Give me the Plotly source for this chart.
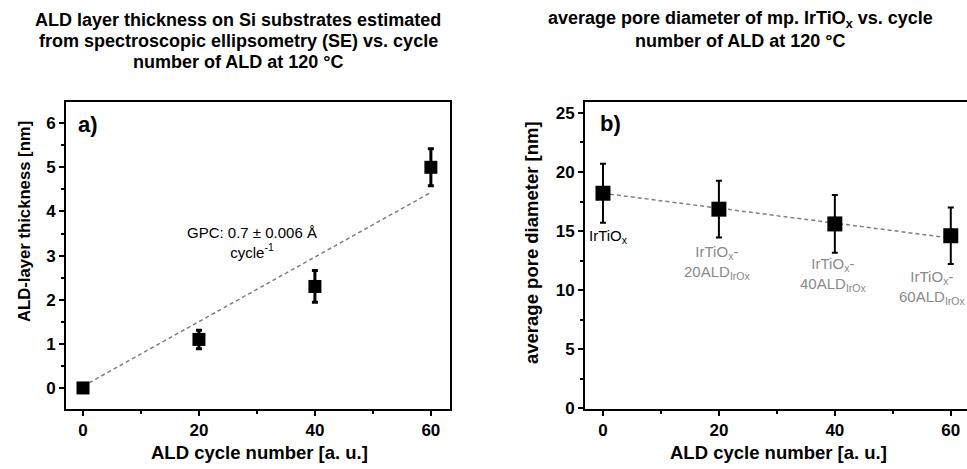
import plotly.graph_objects as go

# ---- data ----
cycles = [0, 20, 40, 60]
thickness = [0.0, 1.1, 2.3, 5.0]
thickness_err = [0.0, 0.21, 0.36, 0.42]
fit_a_x = [0, 60]
fit_a_y = [0.04, 4.43]

pore = [18.2, 16.85, 15.6, 14.6]
pore_err = [2.5, 2.4, 2.45, 2.4]
fit_b_x = [0, 60]
fit_b_y = [18.2, 14.4]

sample_labels = ["IrTiO<sub>x</sub>", "IrTiO<sub>x</sub>-<br>20ALD<sub>IrOx</sub>",
                 "IrTiO<sub>x</sub>-<br>40ALD<sub>IrOx</sub>", "IrTiO<sub>x</sub>-<br>60ALD<sub>IrOx</sub>"]
label_x = [0.9, 19.7, 39.7, 56.7]
label_y = [14.5, 12.3, 11.3, 10.25]
label_colors = ["black", "#8a8a8a", "#8a8a8a", "#8a8a8a"]

title_a_lines = ["ALD layer thickness on Si substrates estimated",
                 "from spectroscopic ellipsometry (SE) vs. cycle",
                 "number of ALD at 120 °C"]
title_b_lines = ["average pore diameter of mp. IrTiO<sub>x</sub> vs. cycle",
                 "number of ALD at 120 °C"]
title_line_y = [20, 41, 62]

FONT = "Liberation Sans, Arial, sans-serif"
W, H = 967, 469

fig = go.Figure()

fig.add_trace(go.Scatter(x=fit_a_x, y=fit_a_y, mode="lines",
                         line=dict(color="#808080", width=1.5, dash="4px,3px"),
                         xaxis="x", yaxis="y", showlegend=False))
fig.add_trace(go.Scatter(x=cycles, y=thickness, mode="markers",
                         marker=dict(symbol="square", size=13, color="black"),
                         error_y=dict(type="data", array=thickness_err, color="black",
                                      thickness=3, width=3),
                         xaxis="x", yaxis="y", showlegend=False))

fig.add_trace(go.Scatter(x=fit_b_x, y=fit_b_y, mode="lines",
                         line=dict(color="#808080", width=1.5, dash="4px,3px"),
                         xaxis="x2", yaxis="y2", showlegend=False))
fig.add_trace(go.Scatter(x=cycles, y=pore, mode="markers",
                         marker=dict(symbol="square", size=15, color="black"),
                         error_y=dict(type="data", array=pore_err, color="black",
                                      thickness=2, width=3),
                         xaxis="x2", yaxis="y2", showlegend=False))

axis_common = dict(showline=True, linecolor="black", linewidth=2, ticks="outside",
                   ticklen=5, tickwidth=2, tickcolor="black", showgrid=False, zeroline=False,
                   automargin=False,
                   tickfont=dict(family=FONT, size=17, color="black", weight="bold"))

def minor(d):
    return dict(dtick=d, tick0=0, ticklen=3, tickwidth=2, ticks="outside", tickcolor="black")

fig.update_layout(
    width=W, height=H,
    margin=dict(l=0, r=0, t=0, b=0),
    paper_bgcolor="white", plot_bgcolor="white",
    font=dict(family=FONT, color="black"),
    xaxis=dict(domain=[66 / W, 450 / W], range=[-2.93, 63.3], tickvals=[0, 20, 40, 60],
               mirror=True, anchor="y", minor=minor(10), **axis_common),
    yaxis=dict(domain=[1 - 409 / H, 1 - 102 / H], range=[-0.477, 6.48], tickvals=[0, 1, 2, 3, 4, 5, 6],
               mirror=True, anchor="x", minor=minor(0.5), **axis_common),
    xaxis2=dict(domain=[585 / W, 1.0], range=[-3.1, 62.8], tickvals=[0, 20, 40, 60],
                mirror=True, anchor="y2", minor=minor(10), **axis_common),
    yaxis2=dict(domain=[1 - 409 / H, 1 - 102 / H], range=[-0.08, 25.93], tickvals=[0, 5, 10, 15, 20, 25],
                mirror=False, anchor="x2", minor=minor(2.5), **axis_common),
)

ann = []
# titles (one annotation per line)
for t, yy in zip(title_a_lines, title_line_y):
    ann.append(dict(text="<b>" + t + "</b>", x=238 / W, y=1 - yy / H, xref="paper", yref="paper",
                    showarrow=False, xanchor="center", yanchor="middle",
                    font=dict(family=FONT, size=18, color="black")))
for t, yy in zip(title_b_lines, title_line_y):
    ann.append(dict(text="<b>" + t + "</b>", x=740 / W, y=1 - yy / H, xref="paper", yref="paper",
                    showarrow=False, xanchor="center", yanchor="middle",
                    font=dict(family=FONT, size=18, color="black")))
# axis titles
ann.append(dict(text="<b>ALD cycle number [a. u.]</b>", x=259 / W, y=1 - 452 / H, xref="paper", yref="paper",
                showarrow=False, xanchor="center", yanchor="middle", font=dict(family=FONT, size=18.5)))
ann.append(dict(text="<b>ALD cycle number [a. u.]</b>", x=778 / W, y=1 - 452 / H, xref="paper", yref="paper",
                showarrow=False, xanchor="center", yanchor="middle", font=dict(family=FONT, size=18.5)))
ann.append(dict(text="<b>ALD-layer thickness [nm]</b>", x=25 / W, y=1 - 222 / H, xref="paper", yref="paper",
                showarrow=False, textangle=-90, xanchor="center", yanchor="middle", font=dict(family=FONT, size=16.7)))
ann.append(dict(text="<b>average pore diameter [nm]</b>", x=532 / W, y=1 - 243 / H, xref="paper", yref="paper",
                showarrow=False, textangle=-90, xanchor="center", yanchor="middle", font=dict(family=FONT, size=18.5)))
# panel letters
ann.append(dict(text="<b>a)</b>", x=88 / W, y=1 - 125 / H, xref="paper", yref="paper", showarrow=False,
                xanchor="center", yanchor="middle", font=dict(family=FONT, size=22)))
ann.append(dict(text="<b>b)</b>", x=610 / W, y=1 - 123 / H, xref="paper", yref="paper", showarrow=False,
                xanchor="center", yanchor="middle", font=dict(family=FONT, size=22)))
# GPC
ann.append(dict(text="GPC: 0.7 ± 0.006 Å<br>cycle<sup>-1</sup>", x=29.1, y=3.3, xref="x", yref="y",
                showarrow=False, xanchor="center", yanchor="middle", font=dict(family=FONT, size=15, color="black")))
# sample labels
for t, lx, ly, c in zip(sample_labels, label_x, label_y, label_colors):
    ann.append(dict(text=t, x=lx, y=ly, xref="x2", yref="y2", showarrow=False,
                    xanchor="center", yanchor="middle", font=dict(family=FONT, size=15, color=c)))

fig.update_layout(annotations=ann)
fig.write_html("out.html", config={"displayModeBar": False},
               post_script="document.body.style.margin='0';document.body.style.overflow='hidden';")
